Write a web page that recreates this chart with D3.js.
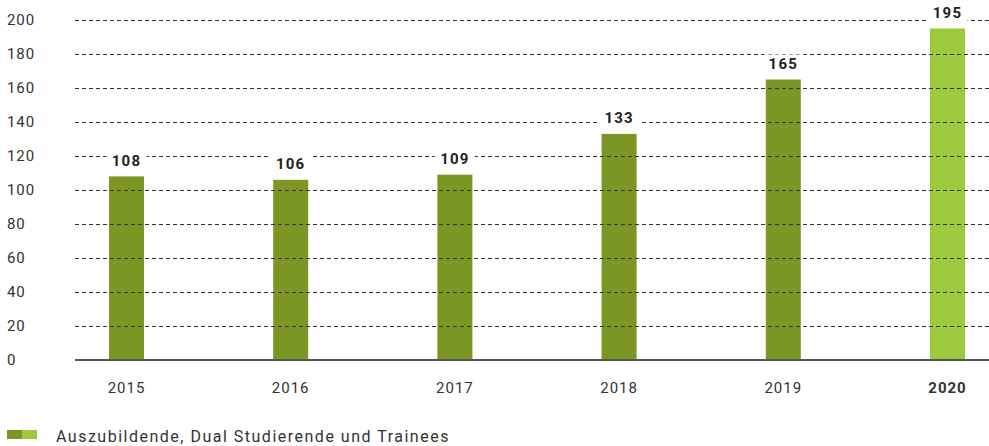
<!DOCTYPE html>
<html>
<head>
<meta charset="utf-8">
<script src="https://cdn.jsdelivr.net/npm/d3@7"></script>
<style>
  html, body { margin: 0; padding: 0; background: #fff; }
  svg { display: block; font-family: Roboto, "Open Sans", sans-serif; }
</style>
</head>
<body>
<svg id="chart" width="989" height="446"></svg>
<script>
// Data
const years = ["2015", "2016", "2017", "2018", "2019", "2020"];
const values = [108, 106, 109, 133, 165, 195];
const yTicks = [0, 20, 40, 60, 80, 100, 120, 140, 160, 180, 200];
const legendLabel = "Auszubildende, Dual Studierende und Trainees";

const colorPast = "#7b9623";
const colorCurrent = "#9cca3c";

const svg = d3.select("#chart");

const x = d3.scalePoint().domain(years).range([126.5, 947.5]);
const y = d3.scaleLinear().domain([0, 200]).range([360, 20]);
const barWidth = 35;
const plotLeft = 75, plotRight = 989;

// Y axis labels
svg.append("g")
  .selectAll("text")
  .data(yTicks)
  .join("text")
  .attr("x", 7)
  .attr("y", d => y(d))
  .attr("dy", "0.36em")
  .attr("font-size", 15)
  .attr("letter-spacing", 0.9)
  .attr("fill", "#333")
  .text(d => d);

// Bars
svg.append("g")
  .selectAll("rect")
  .data(years)
  .join("rect")
  .attr("x", d => x(d) - barWidth / 2)
  .attr("width", barWidth)
  .attr("y", (d, i) => y(values[i]))
  .attr("height", (d, i) => y(0) - y(values[i]))
  .attr("fill", (d, i) => i === years.length - 1 ? colorCurrent : colorPast);

// Dashed gridlines drawn over the bars
svg.append("g")
  .selectAll("line")
  .data(yTicks.filter(d => d > 0))
  .join("line")
  .attr("x1", plotLeft)
  .attr("x2", plotRight)
  .attr("y1", d => Math.round(y(d)) + 0.5)
  .attr("y2", d => Math.round(y(d)) + 0.5)
  .attr("stroke", "#333")
  .attr("stroke-width", 1)
  .attr("stroke-dasharray", "4,3");

// Baseline
svg.append("line")
  .attr("x1", plotLeft)
  .attr("x2", plotRight)
  .attr("y1", y(0))
  .attr("y2", y(0))
  .attr("stroke", "#555")
  .attr("stroke-width", 2);

// Value labels with white backing
const labels = svg.append("g")
  .selectAll("g")
  .data(years)
  .join("g")
  .attr("transform", (d, i) => `translate(${x(d)},${y(values[i]) - 16})`);

labels.append("rect")
  .attr("x", -20)
  .attr("y", -9)
  .attr("width", 40)
  .attr("height", 18)
  .attr("fill", "#fff");

labels.append("text")
  .attr("text-anchor", "middle")
  .attr("dy", "0.36em")
  .attr("font-size", 15)
  .attr("font-weight", "bold")
  .attr("letter-spacing", 1.2)
  .attr("fill", "#222")
  .text((d, i) => values[i]);

// X axis labels
svg.append("g")
  .selectAll("text")
  .data(years)
  .join("text")
  .attr("x", d => x(d))
  .attr("y", 388)
  .attr("dy", "0.36em")
  .attr("text-anchor", "middle")
  .attr("font-size", 15)
  .attr("letter-spacing", 1)
  .attr("font-weight", (d, i) => i === years.length - 1 ? "bold" : "normal")
  .attr("fill", "#333")
  .text(d => d);

// Legend
const legend = svg.append("g").attr("transform", "translate(7,430)");
legend.append("rect").attr("x", 0).attr("y", 0).attr("width", 15).attr("height", 9).attr("fill", colorPast);
legend.append("rect").attr("x", 15).attr("y", 0).attr("width", 15).attr("height", 9).attr("fill", colorCurrent);
legend.append("text")
  .attr("x", 49)
  .attr("y", 6)
  .attr("dy", "0.36em")
  .attr("font-size", 16)
  .attr("letter-spacing", 1.5)
  .attr("fill", "#333")
  .text(legendLabel);
</script>
</body>
</html>
